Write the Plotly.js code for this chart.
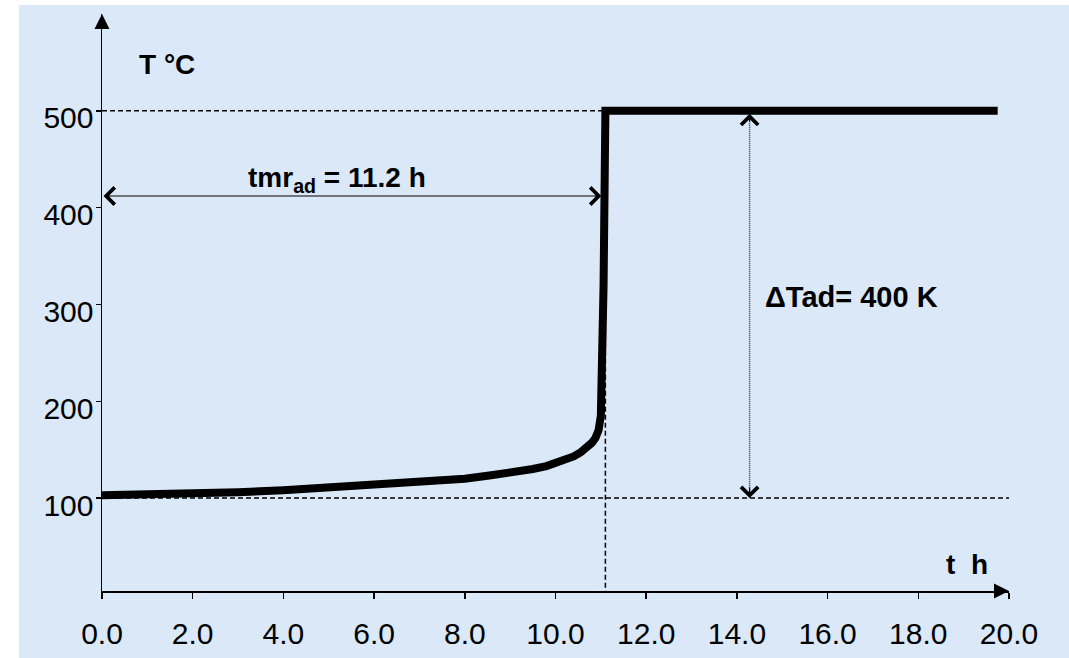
<!DOCTYPE html>
<html>
<head>
<meta charset="utf-8">
<script src="https://cdn.plot.ly/plotly-3.0.1.min.js"></script>
<style>
  html, body { margin: 0; padding: 0; background: #ffffff; }
  #chart { position: absolute; left: 19px; top: 5px; width: 1050px; height: 653px; }
</style>
</head>
<body>
<div id="chart"></div>
<script>
// ---- Data ----
const timeH = [0, 1, 2, 3, 4, 5, 6, 7, 8, 8.5, 9, 9.5, 9.8, 10, 10.2, 10.4, 10.55, 10.7, 10.8, 10.88, 10.95, 11.0, 11.03, 11.06, 11.1, 19.75];
const tempC = [103, 103.5, 104.5, 106, 108, 110.5, 113, 116, 120, 123, 126, 130, 133, 136, 139, 143, 147, 152, 157, 162, 170, 185, 230, 320, 500, 500];

const xTickVals = [0, 2, 4, 6, 8, 10, 12, 14, 16, 18, 20];
const xTickText = ["0.0", "2.0", "4.0", "6.0", "8.0", "10.0", "12.0", "14.0", "16.0", "18.0", "20.0"];
const yTickVals = [100, 200, 300, 400, 500];
const yTickText = ["100", "200", "300", "400", "500"];

const tStart = 100;      // initial temperature
const tFinal = 500;      // final adiabatic temperature
const tmr = 11.1;        // time of step (tmr_ad)
const dtArrowX = 14.28;  // position of the ΔTad arrow
const tmrArrowY = 412;   // level of the tmr arrow
const xMax = 20;
const yMax = 600;
const yMin = 4;

const labelTmr = "tmr<sub>ad</sub> = 11.2 h";
const labelDT = "ΔTad= 400 K";
const labelY = "T °C";
const labelX = "t  h";

const bg = "#dae8f7";
const fontFam = "'Liberation Sans', Arial, sans-serif";

const trace = {
  x: timeH, y: tempC, type: "scatter", mode: "lines",
  line: { color: "#000000", width: 8, shape: "linear" },
  hoverinfo: "skip", showlegend: false
};

const dashStyle = { color: "#000000", width: 1.5, dash: "5px,3px" };
const shapes = [
  { type: "line", xref: "x", yref: "y", x0: 0, x1: tmr, y0: tFinal, y1: tFinal, line: dashStyle, layer: "below" },
  { type: "line", xref: "x", yref: "y", x0: 0, x1: xMax, y0: tStart, y1: tStart, line: dashStyle, layer: "below" },
  { type: "line", xref: "x", yref: "y", x0: tmr, x1: tmr, y0: tFinal, y1: yMin, line: dashStyle, layer: "below" },
  { type: "line", xref: "x", yref: "y", x0: dtArrowX, x1: dtArrowX, y0: tFinal, y1: tStart,
    line: { color: "#333333", width: 1.5, dash: "1px,1px" }, layer: "below" }
];

const boldFont = { family: fontFam, size: 28, color: "#000000", weight: "bold" };

const annotations = [
  // axis arrowheads
  { xref: "x", yref: "paper", x: xMax, y: 0, axref: "pixel", ayref: "pixel", ax: -12, ay: 0,
    text: "", showarrow: true, arrowhead: 2, arrowsize: 2, arrowwidth: 1.5, arrowcolor: "#000000", standoff: 0 },
  { xref: "paper", yref: "y", x: 0, y: yMax, axref: "pixel", ayref: "pixel", ax: 0, ay: 12,
    text: "", showarrow: true, arrowhead: 2, arrowsize: 2, arrowwidth: 1.5, arrowcolor: "#000000", standoff: 0 },
  // tmr double arrow
  { xref: "x", yref: "y", x: tmr, y: tmrArrowY, axref: "x", ayref: "y", ax: 0, ay: tmrArrowY,
    text: "", showarrow: true, arrowside: "end+start", arrowhead: 4, startarrowhead: 4,
    arrowsize: 3, startarrowsize: 3, arrowwidth: 1.1, arrowcolor: "#000000", standoff: 4, startstandoff: 0 },
  // ΔTad arrowheads (dotted line drawn as shape)
  { xref: "x", yref: "y", x: dtArrowX, y: tFinal, axref: "pixel", ayref: "pixel", ax: 0, ay: 12,
    text: "", showarrow: true, arrowhead: 4, arrowsize: 3, arrowwidth: 1.1, arrowcolor: "#000000", standoff: 3 },
  { xref: "x", yref: "y", x: dtArrowX, y: tStart, axref: "pixel", ayref: "pixel", ax: 0, ay: -12,
    text: "", showarrow: true, arrowhead: 4, arrowsize: 3, arrowwidth: 1.1, arrowcolor: "#000000", standoff: 0 },
  // texts
  { xref: "x", yref: "y", x: 1.43, y: 548, text: labelY, showarrow: false, font: boldFont, xanchor: "center", yanchor: "middle" },
  { xref: "x", yref: "y", x: 5.18, y: 429, text: labelTmr, showarrow: false, font: boldFont, xanchor: "center", yanchor: "middle" },
  { xref: "x", yref: "y", x: 16.53, y: 308, text: labelDT, showarrow: false, font: { family: fontFam, size: 29, color: "#000000", weight: "bold" }, xanchor: "center", yanchor: "middle" },
  { xref: "x", yref: "y", x: 19.07, y: 31, text: labelX, showarrow: false, font: boldFont, xanchor: "center", yanchor: "middle" }
];

const tickFont = { family: fontFam, size: 30, color: "#000000" };

const layout = {
  width: 1050, height: 653,
  margin: { l: 83, r: 60, t: 9, b: 67, pad: 0 },
  paper_bgcolor: bg, plot_bgcolor: bg,
  showlegend: false,
  xaxis: {
    range: [0, xMax], showgrid: false, zeroline: false,
    showline: true, linecolor: "#000000", linewidth: 1.5,
    ticks: "outside", ticklen: 6, tickwidth: 1.5, tickcolor: "#000000",
    tickmode: "array", tickvals: xTickVals, ticktext: xTickText,
    tickfont: tickFont, ticklabelstandoff: 9, fixedrange: true
  },
  yaxis: {
    range: [yMin, yMax], showgrid: false, zeroline: false,
    showline: true, linecolor: "#000000", linewidth: 1.5,
    ticks: "outside", ticklen: 5, tickwidth: 1.5, tickcolor: "#000000",
    tickmode: "array", tickvals: yTickVals, ticktext: yTickText,
    tickfont: tickFont, ticklabelshift: 7, ticklabelstandoff: -4, fixedrange: true
  },
  shapes: shapes,
  annotations: annotations
};

Plotly.newPlot("chart", [trace], layout, { displayModeBar: false, staticPlot: true });
</script>
</body>
</html>
